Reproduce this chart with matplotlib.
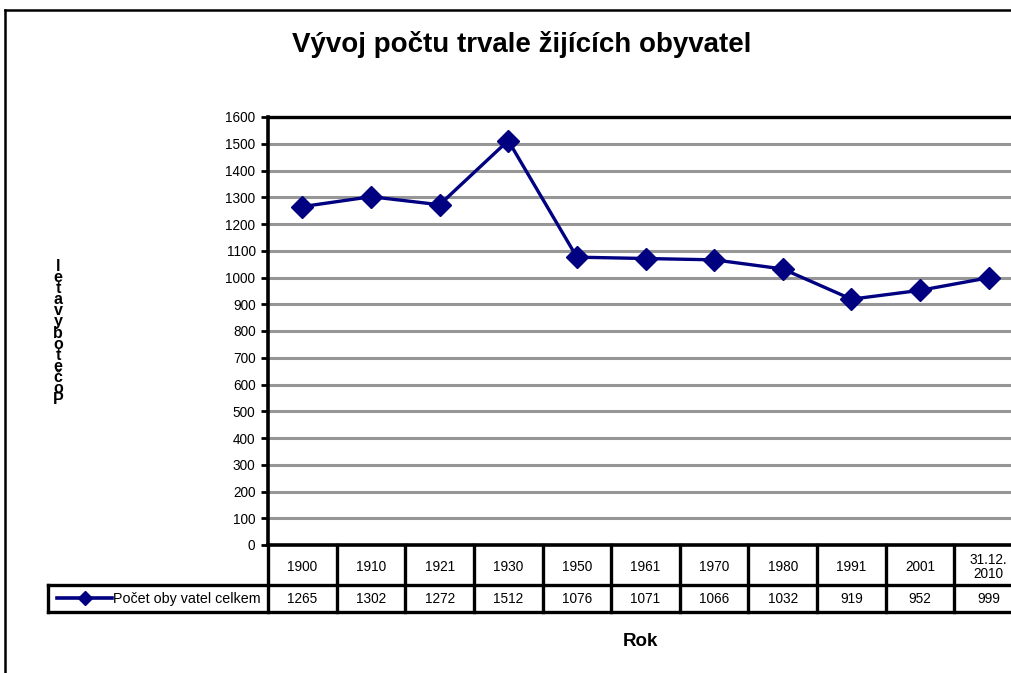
import numpy as np
import matplotlib
matplotlib.use("Agg")
import matplotlib.pyplot as plt
import matplotlib.transforms as mtransforms
from matplotlib.lines import Line2D

#### DATA
roky = ["1900", "1910", "1921", "1930", "1950", "1961", "1970", "1980", "1991", "2001", "31.12.\n2010"]
pocet = [1265, 1302, 1272, 1512, 1076, 1071, 1066, 1032, 919, 952, 999]
serie_nazev = "Počet oby vatel celkem"
y_ticks = list(range(0, 1700, 100))
titulek = "Vývoj počtu trvale žijících obyvatel"
osa_y = "Počet obyvatel"
osa_x = "Rok"

W, H = 1011, 673
NAVY = "#000080"
GRID = "#969696"
FS = 9.8
plt.rcParams['font.family'] = ['Liberation Sans', 'DejaVu Sans']

fig = plt.figure(figsize=(W / 100, H / 100), dpi=100)

def fy(px):
    # pixel from top -> figure fraction
    return 1 - px / H

# plot area: x 268..1023 px, y 117..545 px
ax = fig.add_axes([268 / W, fy(545), 755 / W, 428 / H])
x = np.arange(len(roky))
ax.plot(x, pocet, color=NAVY, lw=2.4, marker="D", ms=11, mfc=NAVY, mec=NAVY, zorder=5, clip_on=False)
ax.set_xlim(-0.5, len(roky) - 0.5)
ax.set_ylim(0, 1600)
ax.set_yticks(y_ticks)
ax.set_yticklabels([str(v) for v in y_ticks], fontsize=FS)
ax.tick_params(axis="y", length=5, width=2, pad=4)
ax.set_xticks([])
ax.yaxis.grid(True, color=GRID, lw=2.2)
ax.set_axisbelow(True)
ax.spines["right"].set_visible(False)
ax.spines["top"].set_linewidth(2.4)
ax.spines["left"].set_linewidth(2.6)
ax.spines["bottom"].set_linewidth(2.6)

#### data table under the axis (x in data, y in figure)
tr = mtransforms.blended_transform_factory(ax.transData, fig.transFigure)
lw_t = 2.4
for i in range(len(roky) + 1):
    ax.add_line(Line2D([i - 0.5, i - 0.5], [fy(545), fy(612)], transform=tr, color="black", lw=lw_t, clip_on=False))
for yy in [585, 612]:
    fig.add_artist(Line2D([48 / W, 1], [fy(yy), fy(yy)], color="black", lw=lw_t))
fig.add_artist(Line2D([48 / W, 48 / W], [fy(585), fy(612)], color="black", lw=lw_t))
for i, (r, p) in enumerate(zip(roky, pocet)):
    ax.text(i, fy(567), r, transform=tr, ha="center", va="center", fontsize=FS, linespacing=1.0, clip_on=False)
    ax.text(i, fy(599), str(p), transform=tr, ha="center", va="center", fontsize=FS, clip_on=False)

# legend key in table
fig.add_artist(Line2D([57 / W, 112 / W], [fy(598), fy(598)], color=NAVY, lw=2.6))
fig.add_artist(Line2D([85 / W], [fy(598)], color=NAVY, marker="D", ms=7, lw=0))
fig.text(113 / W, fy(599), serie_nazev, ha="left", va="center", fontsize=10.3)

#### texts
fig.text(522 / W, fy(45), titulek, ha="center", va="center", fontsize=20, fontweight="bold")
fig.text(640 / W, fy(641), osa_x, ha="center", va="center", fontsize=13.5, fontweight="bold")
stack = "\n".join(list(osa_y.replace(" ", "")[::-1]))
fig.text(58 / W, fy(333), stack, ha="center", va="center", fontsize=11.5, fontweight="bold", linespacing=0.68)

# outer frame
fig.add_artist(Line2D([5 / W, 5 / W], [0, fy(10)], color="black", lw=1.8))
fig.add_artist(Line2D([5 / W, 1], [fy(10), fy(10)], color="black", lw=1.8))

fig.savefig("out.png", dpi=100)
